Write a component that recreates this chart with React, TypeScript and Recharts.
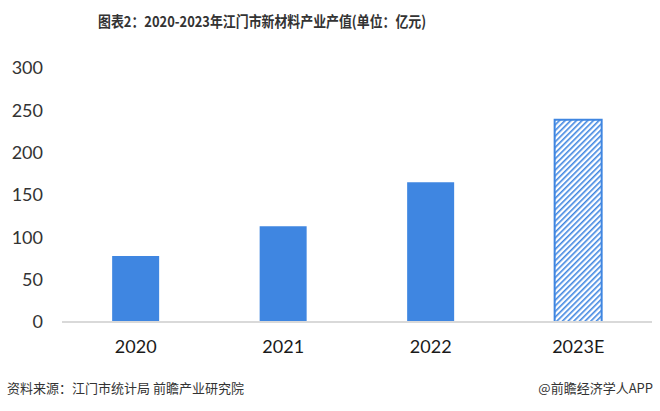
import { BarChart, Bar, XAxis, YAxis, Cell } from 'recharts';

const years = ['2020', '2021', '2022', '2023E'];
const outputValues = [78, 113, 165, 239];
const yTicks = [0, 50, 100, 150, 200, 250, 300];
const forecastYears = ['2023E'];

const data = years.map((year, i) => ({ year, value: outputValues[i] }));

const BLUE = '#3f86e1';

export default function App() {
  return (
    <div
      style={{
        position: 'absolute',
        left: 0,
        top: 0,
        width: 660,
        height: 411,
        background: '#fff',
        fontFamily: '"Noto Sans CJK SC", "Noto Sans", sans-serif',
      }}
    >
      {/* 标题 */}
      <div
        style={{
          position: 'absolute',
          left: 98,
          top: 10,
          fontSize: 15,
          fontWeight: 'bold',
          color: '#333',
          whiteSpace: 'nowrap',
          lineHeight: '22px',
          transform: 'scaleX(0.86)',
          transformOrigin: 'left center',
        }}
      >
        图表2：2020-2023年江门市新材料产业产值(单位：亿元)
      </div>

      <BarChart
        width={660}
        height={411}
        data={data}
        margin={{ top: 68, right: 8, bottom: 59, left: 0 }}
        barCategoryGap="34%"
      >
        <defs>
          <pattern
            id="hatch"
            patternUnits="userSpaceOnUse"
            width="4"
            height="4"
            patternTransform="rotate(45)"
          >
            <rect width="4" height="4" fill="#fff" />
            <line x1="0" y1="0" x2="0" y2="4" stroke={BLUE} strokeWidth="3.2" />
          </pattern>
        </defs>
        <XAxis
          dataKey="year"
          axisLine={{ stroke: '#d9d9d9', strokeWidth: 2 }}
          tickLine={false}
          tickSize={0}
          tickMargin={18}
          height={30}
          tick={{ fontSize: 18, fill: '#1a1a1a', fontFamily: 'Lato, "Noto Sans", sans-serif' }}
        />
        <YAxis
          domain={[0, 300]}
          ticks={yTicks}
          width={62}
          axisLine={false}
          tickLine={false}
          tickSize={0}
          tickMargin={19}
          tick={{ fontSize: 18, fill: '#333', fontFamily: 'Lato, "Noto Sans", sans-serif' }}
        />
        <Bar dataKey="value" isAnimationActive={false}>
          {data.map(d =>
            forecastYears.includes(d.year) ? (
              <Cell key={d.year} fill="url(#hatch)" stroke={BLUE} strokeWidth={2} />
            ) : (
              <Cell key={d.year} fill={BLUE} />
            )
          )}
        </Bar>
      </BarChart>

      {/* 来源 */}
      <div
        style={{
          position: 'absolute',
          left: 7,
          top: 379,
          fontSize: 13,
          color: '#333',
          whiteSpace: 'nowrap',
          lineHeight: '18px',
        }}
      >
        资料来源：江门市统计局 前瞻产业研究院
      </div>
      <div
        style={{
          position: 'absolute',
          right: 7,
          top: 379,
          fontSize: 13,
          color: '#333',
          whiteSpace: 'nowrap',
          lineHeight: '18px',
        }}
      >
        @前瞻经济学人APP
      </div>
    </div>
  );
}
